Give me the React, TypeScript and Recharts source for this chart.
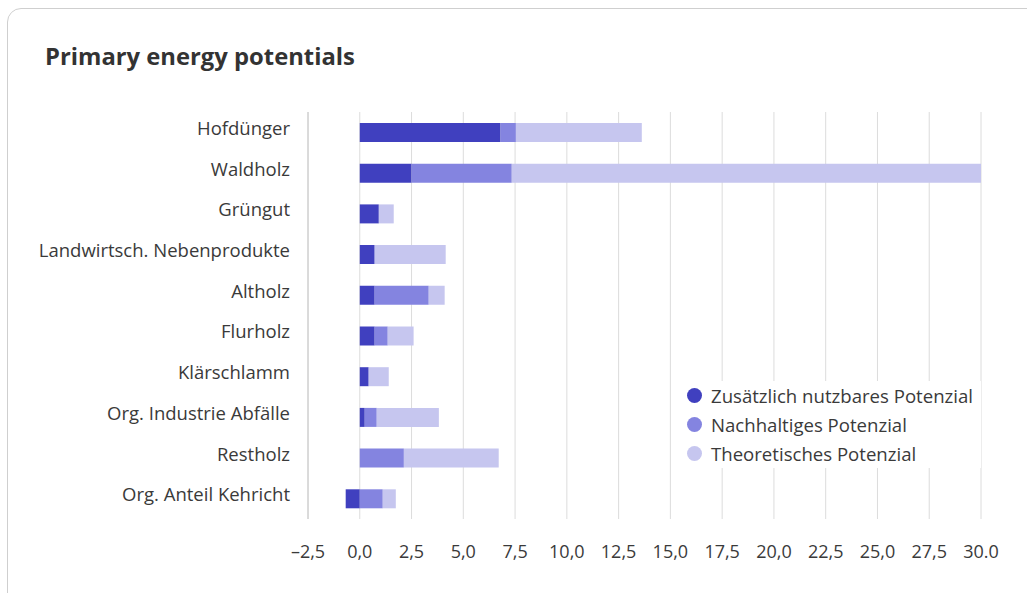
import { BarChart, Bar, XAxis, YAxis, CartesianGrid } from "recharts";

// Energy sources (top to bottom)
const categories = [
  "Hofdünger",
  "Waldholz",
  "Grüngut",
  "Landwirtsch. Nebenprodukte",
  "Altholz",
  "Flurholz",
  "Klärschlamm",
  "Org. Industrie Abfälle",
  "Restholz",
  "Org. Anteil Kehricht",
];

// Stacked segments
const additional = [6.8, 2.5, 0.92, 0.72, 0.72, 0.72, 0.43, 0.24, 0, -0.68];
const sustainable = [0.74, 4.84, 0, 0, 2.61, 0.63, 0, 0.58, 2.13, 1.11];
const theoretical = [6.08, 22.66, 0.72, 3.43, 0.77, 1.25, 0.97, 3.0, 4.58, 0.63];

const xTicks = [-2.5, 0, 2.5, 5, 7.5, 10, 12.5, 15, 17.5, 20, 22.5, 25, 27.5, 30];

const seriesNames = [
  "Zusätzlich nutzbares Potenzial",
  "Nachhaltiges Potenzial",
  "Theoretisches Potenzial",
];
const colors = ["#4040bf", "#8484e0", "#c6c6ef"];

const data = categories.map((name, i) => ({
  name,
  additional: additional[i],
  sustainable: sustainable[i],
  theoretical: theoretical[i],
}));

const font = "'Open Sans', sans-serif";
const textColor = "#3a3a3a";

function formatTick(v: number) {
  if (v === 30) return "30.0";
  return v.toFixed(1).replace(".", ",").replace("-", "–");
}

// category labels sit a little above the bar centre
function CategoryTick(props: any) {
  const { x, y, payload } = props;
  return (
    <text
      x={x}
      y={y - 4}
      dy="0.355em"
      textAnchor="end"
      fill={textColor}
      fontSize={18.5}
      fontFamily={font}
    >
      {payload.value}
    </text>
  );
}

function LegendBox() {
  return (
    <div
      style={{
        position: "absolute",
        left: 679,
        top: 381,
        background: "#fff",
        padding: "0 8px",
        fontFamily: font,
        fontSize: 18.6,
        color: textColor,
      }}
    >
      {seriesNames.map((n, i) => (
        <div key={n} style={{ display: "flex", alignItems: "center", height: 29 }}>
          <span
            style={{
              display: "inline-block",
              width: 15,
              height: 15,
              borderRadius: "50%",
              background: colors[i],
              marginRight: 9,
            }}
          />
          <span>{n}</span>
        </div>
      ))}
    </div>
  );
}

export default function App() {
  return (
    <div
      style={{
        position: "absolute",
        left: 0,
        top: 0,
        width: 1027,
        height: 593,
        overflow: "hidden",
        background: "#fff",
      }}
    >
      <div
        style={{
          position: "absolute",
          left: 7,
          top: 8,
          width: 1040,
          height: 620,
          border: "1px solid #cfcfcf",
          borderRadius: 14,
        }}
      />
      <div
        style={{
          position: "absolute",
          left: 45,
          top: 40,
          fontFamily: font,
          fontWeight: 700,
          fontSize: 23.8,
          color: "#333",
        }}
      >
        Primary energy potentials
      </div>
      <div style={{ position: "absolute", left: 0, top: 0 }}>
        <BarChart
          width={1027}
          height={593}
          data={data}
          layout="vertical"
          stackOffset="sign"
          margin={{ top: 112, right: 46, bottom: 24, left: 8 }}
        >
          <CartesianGrid horizontal={false} stroke="#dcdcdc" />
          <XAxis
            type="number"
            domain={[-2.5, 30]}
            ticks={xTicks}
            interval={0}
            tickFormatter={formatTick}
            axisLine={false}
            tickLine={false}
            tickMargin={20}
            height={50}
            tick={{ fill: textColor, fontSize: 18, fontFamily: font }}
          />
          <YAxis
            type="category"
            dataKey="name"
            width={300}
            axisLine={{ stroke: "#c8c8c8" }}
            tickLine={false}
            tickMargin={12}
            tick={<CategoryTick />}
          />
          <Bar dataKey="additional" stackId="a" fill={colors[0]} barSize={19} isAnimationActive={false} />
          <Bar dataKey="sustainable" stackId="a" fill={colors[1]} barSize={19} isAnimationActive={false} />
          <Bar dataKey="theoretical" stackId="a" fill={colors[2]} barSize={19} isAnimationActive={false} />
        </BarChart>
      </div>
      <LegendBox />
    </div>
  );
}
